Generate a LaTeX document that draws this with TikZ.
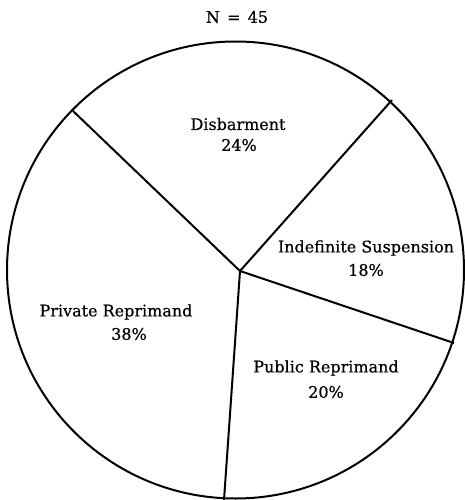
\documentclass[tikz,border=0pt]{standalone}
\usepackage{fontspec}
\setmainfont{DejaVu Serif}
\newfontfamily\lblfont{DejaVu Serif}[FakeBold=0.5]
\begin{document}
\begin{tikzpicture}[x=1pt,y=-1pt,
  rim/.style={line width=2pt},
  spoke/.style={line width=2pt},
  lbl/.style={font=\lblfont\fontsize{16}{18}\selectfont, inner sep=0pt, align=center}]
\useasboundingbox (0,0) rectangle (464,500);
% pie outline
\coordinate (c) at (235.5,270);
\draw[rim] (c) circle[radius=228.5pt];
% hub and spoke ends on the rim
\coordinate (hub) at (240,271);
\coordinate (pUL) at (73,111);
\coordinate (pUR) at (392,100);
\coordinate (pR) at (454,343);
\coordinate (pB) at (224,500);
\draw[spoke] (hub) -- (pUL);
\draw[spoke] (hub) -- (pUR);
\draw[spoke] (hub) -- (pR);
\draw[spoke] (hub) -- (pB);
% title
\node[lbl] (title) at (237,17) {N\hspace{0.45em}=\hspace{0.45em}45};
% slice labels
\node[lbl] (dis) at (238,124) {Disbarment};
\node[lbl] (disp) at (239,145) {24\%};
\node[lbl] (ind) at (366,248) {Indefinite Suspension};
\node[lbl] (indp) at (366,270) {18\%};
\node[lbl] (pub) at (326,368) {Public Reprimand};
\node[lbl] (pubp) at (326,392) {20\%};
\node[lbl] (pri) at (116,312) {Private Reprimand};
\node[lbl] (prip) at (129,334) {38\%};
\end{tikzpicture}
\end{document}
